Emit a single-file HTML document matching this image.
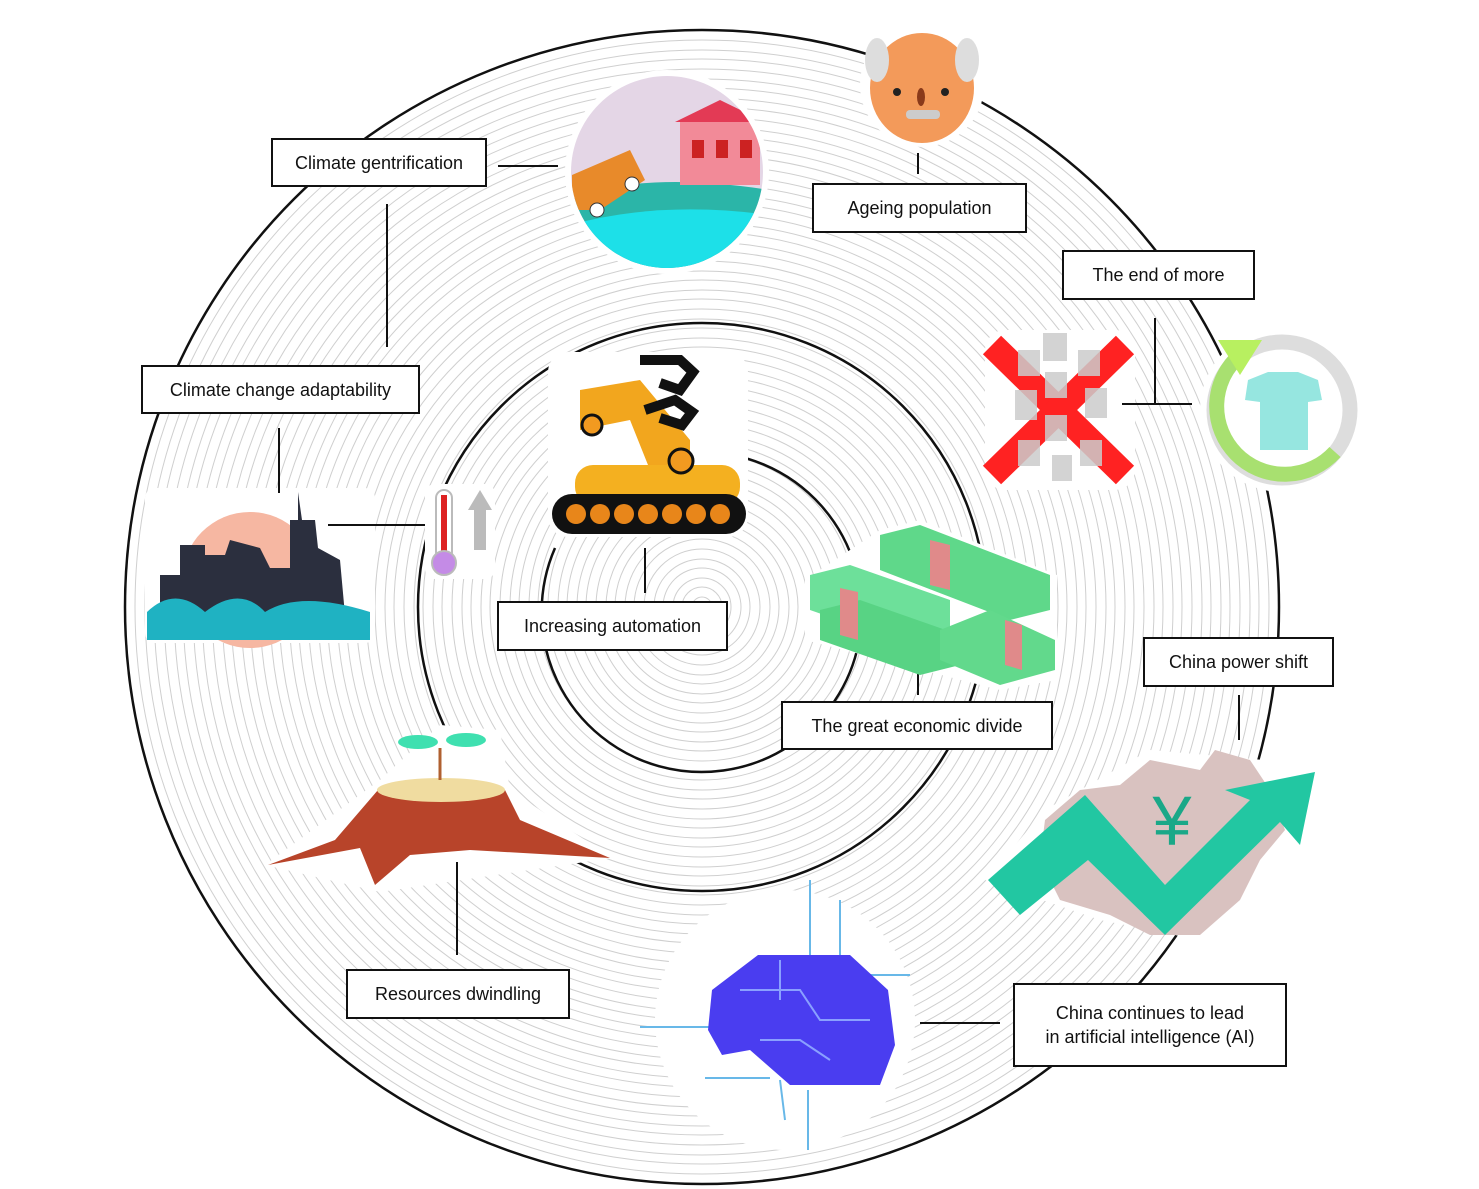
<!DOCTYPE html>
<html><head><meta charset="utf-8"><style>
html,body{margin:0;padding:0;background:#fff}
body{width:1479px;height:1189px;position:relative;overflow:hidden;font-family:"Liberation Sans",sans-serif}
svg{position:absolute;left:0;top:0}
.lb{position:absolute;background:#fff;border:2px solid #111;box-sizing:border-box;font-size:18px;color:#111;display:flex;align-items:center;justify-content:center;text-align:center;line-height:24px}
</style></head><body>
<svg width="1479" height="1189" viewBox="0 0 1479 1189">
<g fill="none" stroke="#cfcfcf" stroke-width="1">
<circle cx="702" cy="607" r="10"/><circle cx="702" cy="607" r="20"/><circle cx="702" cy="607" r="29"/><circle cx="702" cy="607" r="39"/><circle cx="702" cy="607" r="48"/><circle cx="702" cy="607" r="58"/><circle cx="702" cy="607" r="68"/><circle cx="702" cy="607" r="77"/><circle cx="702" cy="607" r="87"/><circle cx="702" cy="607" r="96"/><circle cx="702" cy="607" r="106"/><circle cx="702" cy="607" r="116"/><circle cx="702" cy="607" r="125"/><circle cx="702" cy="607" r="135"/><circle cx="702" cy="607" r="144"/><circle cx="702" cy="607" r="154"/><circle cx="702" cy="607" r="164"/><circle cx="702" cy="607" r="173"/><circle cx="702" cy="607" r="183"/><circle cx="702" cy="607" r="192"/><circle cx="702" cy="607" r="202"/><circle cx="702" cy="607" r="212"/><circle cx="702" cy="607" r="221"/><circle cx="702" cy="607" r="231"/><circle cx="702" cy="607" r="240"/><circle cx="702" cy="607" r="250"/><circle cx="702" cy="607" r="260"/><circle cx="702" cy="607" r="269"/><circle cx="702" cy="607" r="279"/><circle cx="702" cy="607" r="288"/><circle cx="702" cy="607" r="298"/><circle cx="702" cy="607" r="308"/><circle cx="702" cy="607" r="317"/><circle cx="702" cy="607" r="327"/><circle cx="702" cy="607" r="336"/><circle cx="702" cy="607" r="346"/><circle cx="702" cy="607" r="356"/><circle cx="702" cy="607" r="365"/><circle cx="702" cy="607" r="375"/><circle cx="702" cy="607" r="384"/><circle cx="702" cy="607" r="394"/><circle cx="702" cy="607" r="404"/><circle cx="702" cy="607" r="413"/><circle cx="702" cy="607" r="423"/><circle cx="702" cy="607" r="432"/><circle cx="702" cy="607" r="442"/><circle cx="702" cy="607" r="452"/><circle cx="702" cy="607" r="461"/><circle cx="702" cy="607" r="471"/><circle cx="702" cy="607" r="480"/><circle cx="702" cy="607" r="490"/><circle cx="702" cy="607" r="500"/><circle cx="702" cy="607" r="509"/><circle cx="702" cy="607" r="519"/><circle cx="702" cy="607" r="528"/><circle cx="702" cy="607" r="538"/><circle cx="702" cy="607" r="548"/><circle cx="702" cy="607" r="557"/><circle cx="702" cy="607" r="567"/>
</g>
<g fill="none" stroke="#111" stroke-width="2.5">
<circle cx="702" cy="607" r="577"/>
<circle cx="702" cy="607" r="284"/>
<path d="M700 452 A160 160 0 1 1 555 548"/>
</g>
<!-- white masks behind images -->
<g fill="#fff">
<circle cx="667" cy="172" r="102"/>
<circle cx="922" cy="85" r="62"/>
<circle cx="1282" cy="410" r="82"/>
<rect x="985" y="330" width="150" height="160" rx="20"/>
<rect x="145" y="488" width="230" height="155" rx="10"/>
<rect x="425" y="484" width="70" height="95" rx="10"/>
<rect x="548" y="352" width="200" height="185" rx="20"/>
<path d="M805 580 L880 530 L920 520 L1057 575 L1057 680 L1000 690 L805 640Z"/>
<path d="M265 865 L380 780 L440 725 L500 730 L510 790 L612 858 L380 892Z"/>
<path d="M985 880 L1045 810 L1150 750 L1320 765 L1290 860 L1200 940 L1100 920Z"/>
<circle cx="785" cy="1020" r="130"/>
</g>
<!-- connectors -->
<g stroke="#111" stroke-width="2">
<line x1="498" y1="166" x2="558" y2="166"/>
<line x1="387" y1="204" x2="387" y2="347"/>
<line x1="279" y1="428" x2="279" y2="493"/>
<line x1="328" y1="525" x2="425" y2="525"/>
<line x1="918" y1="153" x2="918" y2="174"/>
<line x1="1155" y1="318" x2="1155" y2="404"/>
<line x1="1122" y1="404" x2="1192" y2="404"/>
<line x1="645" y1="548" x2="645" y2="593"/>
<line x1="918" y1="648" x2="918" y2="695"/>
<line x1="1239" y1="695" x2="1239" y2="740"/>
<line x1="457" y1="862" x2="457" y2="955"/>
<line x1="920" y1="1023" x2="1000" y2="1023"/>
</g>
<!-- gentrification -->
<clipPath id="cg"><circle cx="667" cy="172" r="96"/></clipPath>
<g clip-path="url(#cg)">
<rect x="570" y="76" width="200" height="200" fill="#e4d6e6"/>
<path d="M570 200 Q640 170 770 190 L770 280 L570 280Z" fill="#2bb5a8"/>
<path d="M570 225 Q660 200 770 215 L770 280 L570 280Z" fill="#1de0e8"/>
<rect x="680" y="120" width="80" height="65" fill="#f28a98"/>
<path d="M675 122 L720 100 L765 122Z" fill="#e33a55"/>
<rect x="692" y="140" width="12" height="18" fill="#c22"/><rect x="716" y="140" width="12" height="18" fill="#c22"/><rect x="740" y="140" width="12" height="18" fill="#c22"/>
<path d="M572 175 L630 150 L645 180 L600 210 L572 210Z" fill="#e88a2a"/>
<circle cx="597" cy="210" r="7" fill="#fff" stroke="#333"/><circle cx="632" cy="184" r="7" fill="#fff" stroke="#333"/>
</g>
<!-- old man -->
<ellipse cx="922" cy="88" rx="52" ry="55" fill="#f39a5a"/>
<ellipse cx="877" cy="60" rx="12" ry="22" fill="#ddd"/><ellipse cx="967" cy="60" rx="12" ry="22" fill="#ddd"/>
<circle cx="897" cy="92" r="4" fill="#222"/><circle cx="945" cy="92" r="4" fill="#222"/>
<ellipse cx="921" cy="97" rx="4" ry="9" fill="#8a3a1a"/>
<rect x="906" y="110" width="34" height="9" rx="4" fill="#ccc"/>
<!-- X of shirts -->
<g stroke="#f22" stroke-width="26"><line x1="992" y1="345" x2="1125" y2="475"/><line x1="1125" y1="345" x2="992" y2="475"/></g>
<g fill="#ccc" opacity=".85">
<rect x="1043" y="333" width="24" height="28"/><rect x="1018" y="350" width="22" height="26"/><rect x="1078" y="350" width="22" height="26"/>
<rect x="1045" y="372" width="22" height="26"/><rect x="1015" y="390" width="22" height="30"/><rect x="1085" y="388" width="22" height="30"/>
<rect x="1045" y="415" width="22" height="26"/><rect x="1018" y="440" width="22" height="26"/><rect x="1080" y="440" width="22" height="26"/><rect x="1052" y="455" width="20" height="26"/>
</g>
<!-- recycle ring -->
<circle cx="1282" cy="410" r="68" fill="none" stroke="#ddd" stroke-width="15"/>
<path d="M1335 452 A68 68 0 1 1 1240 355" fill="none" stroke="#a8e070" stroke-width="15"/>
<path d="M1218 340 L1262 340 L1240 375Z" fill="#b8f060"/>
<path d="M1248 380 L1268 372 L1298 372 L1318 380 L1322 400 L1308 402 L1308 450 L1260 450 L1260 402 L1245 400Z" fill="#96e6e0"/>
<!-- city -->
<circle cx="250" cy="580" r="68" fill="#f6b7a2"/>
<path d="M160 575 L180 575 L180 545 L205 545 L205 555 L225 555 L230 540 L260 548 L270 568 L290 568 L290 520 L298 520 L298 492 L302 520 L315 520 L318 548 L340 560 L345 615 L160 615Z" fill="#2b2f3e"/>
<path d="M147 612 Q175 585 205 612 Q240 585 265 612 Q300 590 370 612 L370 640 L147 640Z" fill="#1fb2c2"/>
<!-- thermometer -->
<rect x="436" y="490" width="16" height="70" rx="8" fill="#fff" stroke="#bbb" stroke-width="2"/>
<rect x="441" y="495" width="6" height="60" fill="#d22"/>
<circle cx="444" cy="563" r="12" fill="#c48be6" stroke="#bbb" stroke-width="2"/>
<path d="M480 490 L492 510 L486 510 L486 550 L474 550 L474 510 L468 510Z" fill="#bbb"/>
<!-- robot -->
<path d="M580 390 L640 380 L690 440 L690 470 L650 470 L630 420 L580 430Z" fill="#f2a61e"/>
<rect x="575" y="465" width="165" height="40" rx="18" fill="#f4b020"/>
<circle cx="592" cy="425" r="10" fill="#f29a20" stroke="#111" stroke-width="3"/>
<circle cx="681" cy="461" r="12" fill="#f29a20" stroke="#111" stroke-width="3"/>
<path d="M640 360 L680 360 L693 372 L680 390 L660 383" fill="none" stroke="#111" stroke-width="10"/>
<path d="M645 410 L675 400 L692 412 L682 425 L660 418" fill="none" stroke="#111" stroke-width="10"/>
<rect x="552" y="494" width="194" height="40" rx="20" fill="#111"/>
<g fill="#e8861a"><circle cx="576" cy="514" r="10"/><circle cx="600" cy="514" r="10"/><circle cx="624" cy="514" r="10"/><circle cx="648" cy="514" r="10"/><circle cx="672" cy="514" r="10"/><circle cx="696" cy="514" r="10"/><circle cx="720" cy="514" r="10"/></g>
<!-- money -->
<g>
<path d="M880 535 L920 525 L1050 575 L1050 610 L1010 620 L880 570Z" fill="#5fd88a"/>
<path d="M810 575 L850 565 L950 600 L950 635 L910 645 L810 610Z" fill="#6de09a"/>
<path d="M820 610 L860 600 L960 635 L960 665 L920 675 L820 640Z" fill="#58d384"/>
<path d="M940 630 L990 610 L1055 640 L1055 670 L1000 685 L940 660Z" fill="#62d98c"/>
<path d="M930 540 L950 545 L950 590 L930 585Z" fill="#e08a8a"/>
<path d="M840 588 L858 592 L858 640 L840 635Z" fill="#e08a8a"/>
<path d="M1005 620 L1022 625 L1022 670 L1005 665Z" fill="#e08a8a"/>
</g>
<!-- china -->
<path d="M1045 820 L1080 790 L1120 785 L1150 760 L1200 770 L1215 750 L1250 760 L1270 790 L1285 830 L1260 860 L1240 900 L1200 935 L1150 935 L1110 915 L1060 900 L1040 860Z" fill="#d9c2c0"/>
<path d="M988 880 L1085 795 L1165 885 L1250 800 L1225 790 L1315 772 L1300 845 L1280 822 L1165 935 L1088 860 L1020 915Z" fill="#22c7a2"/>
<text x="1172" y="845" font-size="70" fill="#1aa888" text-anchor="middle" font-family="Liberation Sans,sans-serif">¥</text>
<!-- stump -->
<path d="M378 790 L335 840 L268 865 L360 848 L375 885 L410 855 L470 850 L610 858 L520 820 L505 790Z" fill="#b8442a"/>
<ellipse cx="441" cy="790" rx="64" ry="12" fill="#f0dca0"/>
<line x1="440" y1="780" x2="440" y2="748" stroke="#b06030" stroke-width="3"/>
<ellipse cx="418" cy="742" rx="20" ry="7" fill="#3fe0b0"/>
<ellipse cx="466" cy="740" rx="20" ry="7" fill="#3fe0b0"/>
<!-- brain -->
<g stroke="#68b8e8" stroke-width="2" fill="none">
<path d="M640 1027 L720 1027"/><path d="M705 1078 L770 1078"/><path d="M810 880 L810 960"/><path d="M840 900 L840 960"/><path d="M808 1090 L808 1150"/><path d="M870 975 L910 975"/><path d="M780 1080 L785 1120"/>
</g>
<path d="M712 990 L758 955 L850 955 L888 990 L895 1045 L880 1085 L790 1085 L750 1050 L722 1055 L708 1030Z" fill="#4a3df0"/>
<g stroke="#8aa0ff" stroke-width="2" fill="none"><path d="M740 990 L800 990 L820 1020 L870 1020"/><path d="M760 1040 L800 1040 L830 1060"/><path d="M780 960 L780 1000"/></g>
</svg>
<div class="lb" style="left:271px;top:138px;width:216px;height:49px">Climate gentrification</div>
<div class="lb" style="left:812px;top:183px;width:215px;height:50px">Ageing population</div>
<div class="lb" style="left:1062px;top:250px;width:193px;height:50px">The end of more</div>
<div class="lb" style="left:141px;top:365px;width:279px;height:49px">Climate change adaptability</div>
<div class="lb" style="left:497px;top:601px;width:231px;height:50px">Increasing automation</div>
<div class="lb" style="left:781px;top:701px;width:272px;height:49px">The great economic divide</div>
<div class="lb" style="left:1143px;top:637px;width:191px;height:50px">China power shift</div>
<div class="lb" style="left:346px;top:969px;width:224px;height:50px">Resources dwindling</div>
<div class="lb" style="left:1013px;top:983px;width:274px;height:84px">China continues to lead<br>in artificial intelligence (AI)</div>
</body></html>
